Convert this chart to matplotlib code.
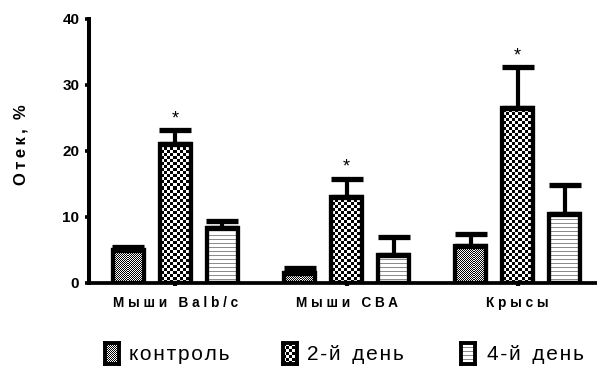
# Edema after injection: grouped bars with one-sided SEM and significance marks
import numpy as np
import matplotlib.pyplot as plt

plt.rcParams['font.family'] = ['Liberation Sans', 'DejaVu Sans']

groups = ['Мыши Balb/c', 'Мыши CBA', 'Крысы']
series = ['контроль', '2-й день', '4-й день']

control = [5.0, 1.5, 5.6]
day2 = [21.1, 13.0, 26.5]
day4 = [8.4, 4.2, 10.4]

control_err = [0.5, 0.8, 1.9]
day2_err = [2.1, 2.8, 6.2]
day4_err = [1.0, 2.7, 4.5]

# significant vs control
day2_sig = [True, True, True]

values = [control, day2, day4]
errors = [control_err, day2_err, day4_err]


def spaced(s, sep=' ', gap='   '):
    # wide letter tracking between characters, wider gap between words
    return gap.join(sep.join(w) for w in s.split(' '))


W, H = 597, 368
fig = plt.figure(figsize=(W / 100, H / 100), dpi=100)
ax_left, ax_right, ax_top, ax_bot = 89, 597, 19, 283
ax = fig.add_axes([ax_left / W, (H - ax_bot) / H,
                   (ax_right - ax_left) / W, (ax_bot - ax_top) / H])

# fill textures at screen resolution
pw, ph = ax_right - ax_left, ax_bot - ax_top
yy, xx = np.mgrid[0:ph, 0:pw]
fine = ((xx + yy) % 2).astype(float)
coarse = ((xx // 3 + yy // 3) % 2).astype(float)
stripes = np.where(yy % 4 == 0, 0.55, 1.0)
textures = [fine, coarse, stripes]

group_gap = 3.64
width = 0.66
centers = np.arange(len(groups)) * group_gap
xlim = (-1.84, 8.97)
ylim = (0, 40)

for i in range(len(series)):
    x = centers + (i - 1)
    bars = ax.bar(x, values[i], width, facecolor='none', edgecolor='black',
                  linewidth=3.1, zorder=3)
    for b in bars:
        im = ax.imshow(textures[i], cmap='gray', vmin=0, vmax=1, extent=xlim + ylim,
                       aspect='auto', interpolation='nearest', zorder=2)
        im.set_clip_path(b)
    ax.errorbar(x, values[i], yerr=[np.zeros(len(groups)), errors[i]], fmt='none',
                ecolor='black', elinewidth=3.0, capsize=11.5, capthick=3.8, zorder=4)

for j, sig in enumerate(day2_sig):
    if sig:
        ax.annotate('*', (centers[j], day2[j] + day2_err[j]), xytext=(0, 2),
                    textcoords='offset points', ha='center', va='bottom', fontsize=13)

ax.set_xlim(xlim)
ax.set_ylim(ylim)

for s in ['top', 'right']:
    ax.spines[s].set_visible(False)
ax.spines['left'].set_linewidth(2.9)
ax.spines['bottom'].set_linewidth(2.7)

ax.set_yticks([0, 10, 20, 30, 40])
ax.tick_params(axis='y', length=3, width=2.6, pad=4, labelsize=11)
for t in ax.get_yticklabels():
    t.set_fontweight('bold')

ax.set_xticks(centers)
ax.set_xticklabels([spaced(g) for g in groups], fontsize=9.8, fontweight='bold')
ax.tick_params(axis='x', length=2.5, width=3, pad=7)

fig.text(21 / W, (H - 145) / H, spaced('Отек, %', '\u2009', '  '), rotation=90,
         ha='center', va='center', fontsize=12, fontweight='bold')

# legend drawn as small framed swatches with labels
sw_x = [105, 283, 461]
txt_x = [129, 307, 487]
sw_w, sw_h, sw_bot = 14, 21, 364
for i, name in enumerate(series):
    lax = fig.add_axes([sw_x[i] / W, (H - sw_bot) / H, sw_w / W, sw_h / H])
    lax.imshow(textures[i][:sw_h, :sw_w], cmap='gray', vmin=0, vmax=1,
               aspect='auto', interpolation='nearest')
    lax.set_xticks([])
    lax.set_yticks([])
    for sp in lax.spines.values():
        sp.set_linewidth(2.8)
    fig.text(txt_x[i] / W, (H - 354) / H, spaced(name, '\u200a', '  '), ha='left',
             va='center', fontsize=15)

fig.savefig('out.png', dpi=100)
